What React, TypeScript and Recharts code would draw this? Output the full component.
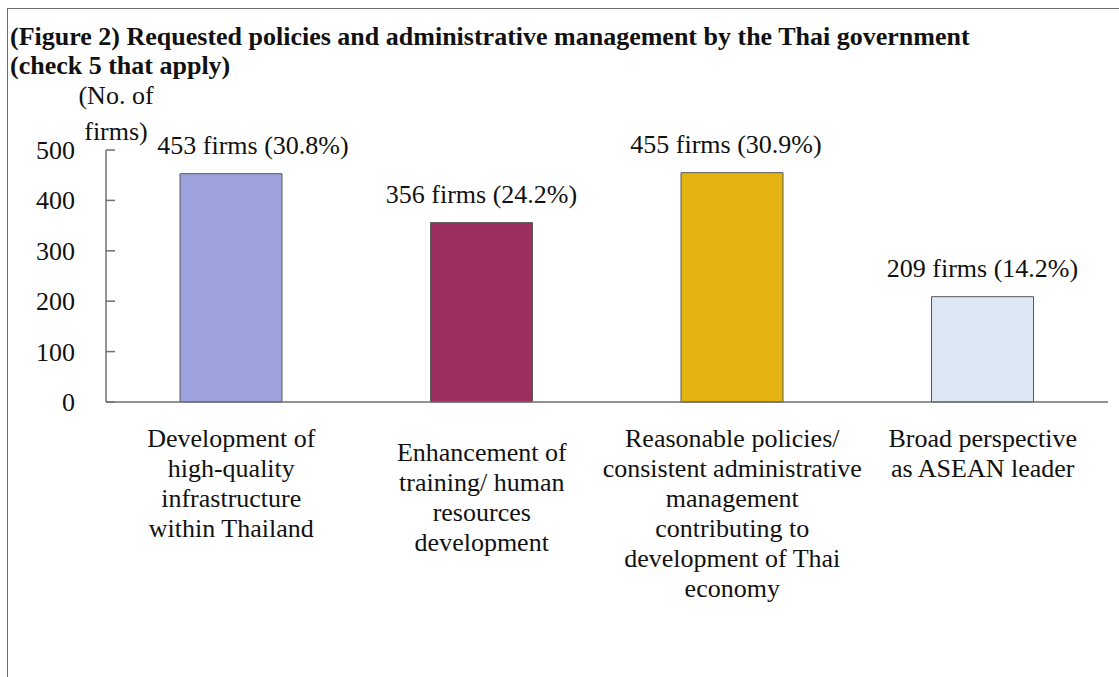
import { BarChart, Bar, XAxis, YAxis, Cell, LabelList } from 'recharts';

const categories = [
  'Development of\nhigh-quality\ninfrastructure\nwithin Thailand',
  'Enhancement of\ntraining/ human\nresources\ndevelopment',
  'Reasonable policies/\nconsistent administrative\nmanagement\ncontributing to\ndevelopment of Thai\neconomy',
  'Broad perspective\nas ASEAN leader',
];
const firms = [453, 356, 455, 209];
const shares = [30.8, 24.2, 30.9, 14.2];
const yTicks = [0, 100, 200, 300, 400, 500];

const BAR_COLORS = ['#9ea2dc', '#9c2f5f', '#e5b30f', '#dbe7f2'];
const FONT = "'Liberation Serif', 'DejaVu Serif', serif";
const AXIS_COLOR = '#6f6f6f';
// small nudges so the texts sit where the original put them
const VALUE_LABEL_DX = [22, 0, -6, 0];
const CAT_LABEL_DY = [0, 14, 0, 0];

const data = categories.map((name, i) => ({ name, firms: firms[i], share: shares[i] }));

const textStyle = { fontFamily: FONT, fontSize: 26, fontWeight: 400 };

function YTick({ x, y, payload }: any) {
  return (
    <g>
      <line x1={x + 31} x2={x + 40} y1={y} y2={y} stroke={AXIS_COLOR} strokeWidth={1.5} />
      <text x={x} y={y} dy={9} textAnchor="end" style={textStyle} fill="#111">
        {payload.value}
      </text>
    </g>
  );
}

function XTick({ x, y, payload, index }: any) {
  const lines = String(payload.value).split('\n');
  const top = y + 45 + (CAT_LABEL_DY[index] ?? 0);
  return (
    <text x={x} y={top} textAnchor="middle" style={textStyle} fill="#111">
      {lines.map((l, i) => (
        <tspan key={i} x={x} y={top + i * 30}>{l}</tspan>
      ))}
    </text>
  );
}

function ValueLabel({ x, y, width, value, index }: any) {
  return (
    <text
      x={x + width / 2 + (VALUE_LABEL_DX[index] ?? 0)}
      y={y - 20}
      textAnchor="middle"
      style={textStyle}
      fill="#111"
    >
      {`${value} firms (${shares[index].toFixed(1)}%)`}
    </text>
  );
}

export default function App() {
  return (
    <div style={{ position: 'absolute', top: 0, left: 0, width: 1119, height: 677, background: '#fff', overflow: 'hidden', fontFamily: FONT }}>
      <div
        style={{
          position: 'absolute',
          top: 8,
          left: 7,
          right: 0,
          bottom: 0,
          borderTop: `1.5px solid ${AXIS_COLOR}`,
          borderLeft: `1.5px solid ${AXIS_COLOR}`,
        }}
      />
      <div
        style={{
          position: 'absolute',
          top: 22,
          left: 10,
          fontWeight: 'bold',
          fontSize: 26,
          lineHeight: '29px',
          color: '#111',
          whiteSpace: 'nowrap',
        }}
      >
        (Figure 2) Requested policies and administrative management by the Thai government
        <br />
        (check 5 that apply)
      </div>
      <div
        style={{
          position: 'absolute',
          top: 78,
          left: 66,
          width: 100,
          textAlign: 'center',
          fontSize: 26,
          fontWeight: 400,
          lineHeight: '36px',
          color: '#111',
        }}
      >
        (No. of
        <br />
        firms)
      </div>
      <div style={{ position: 'absolute', top: 0, left: 0 }}>
        <BarChart width={1119} height={677} data={data} margin={{ top: 150, right: 11, bottom: 0, left: 0 }}>
          <XAxis
            dataKey="name"
            height={275}
            interval={0}
            tickLine={false}
            tickSize={0}
            tickMargin={0}
            axisLine={{ stroke: AXIS_COLOR, strokeWidth: 1.5 }}
            tick={<XTick />}
          />
          <YAxis
            width={106}
            domain={[0, 500]}
            ticks={yTicks}
            tickLine={false}
            tickSize={0}
            tickMargin={31}
            axisLine={{ stroke: AXIS_COLOR, strokeWidth: 1.5 }}
            tick={<YTick />}
          />
          <Bar dataKey="firms" barSize={102} isAnimationActive={false} stroke="#5a5a5a" strokeWidth={1}>
            {data.map((d, i) => (
              <Cell key={d.name} fill={BAR_COLORS[i]} />
            ))}
            <LabelList dataKey="firms" content={<ValueLabel />} />
          </Bar>
        </BarChart>
      </div>
    </div>
  );
}
